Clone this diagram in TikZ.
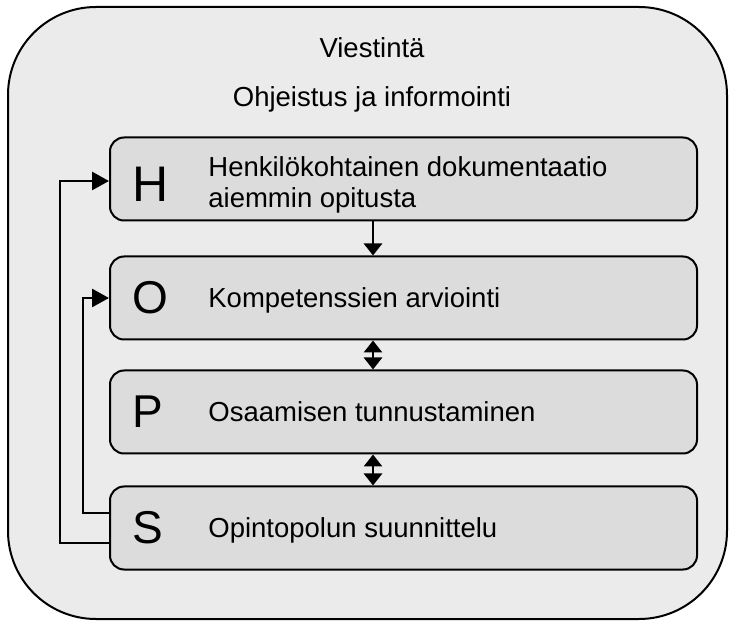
\documentclass[tikz,border=0pt]{standalone}
\usepackage{fontspec}
\setmainfont{Liberation Sans}
\usetikzlibrary{positioning,arrows.meta}
\definecolor{outergray}{HTML}{EBEBEB}
\definecolor{boxgray}{HTML}{DCDCDC}

\begin{document}
\begin{tikzpicture}[x=1pt, y=1pt, line width=2.8pt,
                    >={Triangle[length=17pt,width=18pt]}]
\tikzstyle{phase}=[draw, line width=2pt, rounded corners=14pt, fill=boxgray,
                   minimum width=587pt, minimum height=83pt, inner sep=0pt]
\tikzstyle{bigletter}=[font=\fontsize{46}{46}\selectfont, inner sep=0pt, anchor=west]
\tikzstyle{phasetext}=[font=\fontsize{27.5}{31}\selectfont, inner sep=0pt]
\tikzstyle{vhead}=[>={Triangle[length=12pt,width=18pt]}]

\useasboundingbox (0,0) rectangle (729,622);
\draw[line width=2pt, fill=outergray, rounded corners=88pt] (8,3) rectangle (727,615);

\node[phasetext, anchor=base] (title) at (372,564) {Viestintä};
\node[phasetext, anchor=base] (subtitle) at (372,515) {Ohjeistus ja informointi};

% phases
\node[phase] (bH) at (403.5,443) {};
\node[phase, below=34pt of bH] (bO) {};
\node[phase, below=29pt of bO] (bP) {};
\node[phase, below=31pt of bP] (bS) {};

\node[bigletter, font=\fontsize{50}{50}\selectfont] (lH) at ([shift={(22pt,-5pt)}]bH.west) {H};
\node[bigletter] (lO) at ([xshift=22pt]bO.west) {O};
\node[bigletter] (lP) at ([xshift=22pt]bP.west) {P};
\node[bigletter] (lS) at ([xshift=22pt]bS.west) {S};

\node[phasetext, anchor=west, align=left] (tH) at ([shift={(98pt,-5.5pt)}]bH.west)
     {Henkilökohtainen dokumentaatio\\aiemmin opitusta};
\node[phasetext, anchor=base west] (tO) at ([shift={(98pt,-9.5pt)}]bO.west) {Kompetenssien arviointi};
\node[phasetext, anchor=base west] (tP) at ([shift={(98pt,-9.5pt)}]bP.west) {Osaamisen tunnustaminen};
\node[phasetext, anchor=base west] (tS) at ([shift={(98pt,-9.5pt)}]bS.west) {Opintopolun suunnittelu};

% connectors
\coordinate (ax) at (373,0);
\coordinate (outerx) at (60,0);
\coordinate (innerx) at (83,0);

\draw[->, vhead] (bH.south -| ax) -- (bO.north -| ax);
\draw[<->, vhead] (bO.south -| ax) -- (bP.north -| ax);
\draw[<->, vhead] (bP.south -| ax) -- (bS.north -| ax);

\draw[->] ([yshift=-15pt]bS.west) -| ([yshift=-2pt]bH.west -| outerx) -- ([yshift=-2pt]bH.west);
\draw[->] ([yshift=15pt]bS.west) -| (bO.west -| innerx) -- (bO.west);
\end{tikzpicture}
\end{document}
